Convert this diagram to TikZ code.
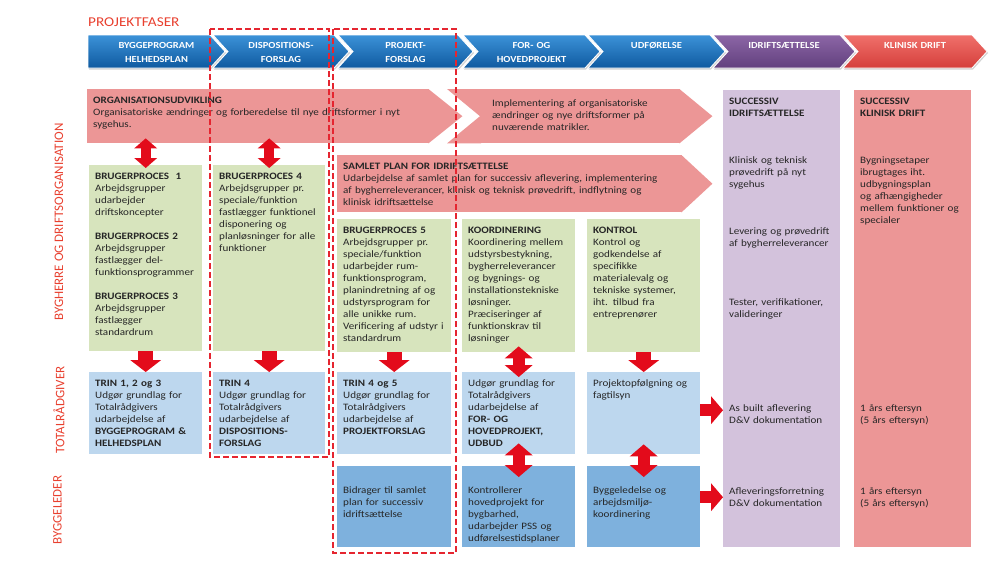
\documentclass[tikz,border=0pt]{standalone}
\usepackage{fontspec}
\setmainfont{Carlito}[FakeStretch=1.13]
\newfontfamily\sidefont{Carlito}
\usepackage{xcolor}
\usepackage{tikz}
\usetikzlibrary{arrows.meta,shadows,positioning}
\hyphenpenalty=10000
\exhyphenpenalty=10000

\definecolor{txtgray}{HTML}{262626}
\definecolor{pinkarrow}{HTML}{EC9696}
\definecolor{boxgreen}{HTML}{D7E4BD}
\definecolor{boxlblue}{HTML}{BDD7EE}
\definecolor{boxdblue}{HTML}{7EB1DD}
\definecolor{colpurple}{HTML}{D3C2DC}
\definecolor{arrowred}{HTML}{E30B1B}
\definecolor{framered}{HTML}{E52530}
\definecolor{labelred}{HTML}{E8402F}
\definecolor{phaseBlueTop}{HTML}{3C92D8}
\definecolor{phaseBlueBot}{HTML}{0F5AA0}
\definecolor{phasePurpleTop}{HTML}{8C66A6}
\definecolor{phasePurpleBot}{HTML}{62407E}
\definecolor{phaseRedTop}{HTML}{F0706B}
\definecolor{phaseRedBot}{HTML}{D53F3B}

\begin{document}
\begin{tikzpicture}[
  x=1pt, y=-1pt,
  every node/.style={text=txtgray},
  body/.style={font=\fontsize{9.8}{12}\selectfont, anchor=north west, align=left,
    inner xsep=6pt, inner ysep=6pt, text height=8pt},
  cell/.style 2 args={body, text width=#1, text depth=#2},
  phase/.style={top color=phase#1Top, bottom color=phase#1Bot, draw=white, line width=0.8pt,
    drop shadow={shadow xshift=1pt, shadow yshift=-1.5pt, opacity=0.35}},
  phasetext/.style={text=white, font=\bfseries\fontsize{9.3}{14}\selectfont, anchor=base,
    text width=120pt, align=center, inner sep=0pt},
  side/.style={text=labelred, font=\sidefont\fontsize{13}{15}\selectfont, rotate=90, inner sep=0pt},
  downarr/.style={draw=arrowred, line width=15pt, -{Triangle[width=31pt,length=12pt,line width=0pt]}},
  dblarr/.style={draw=arrowred, line width=12pt,
    {Triangle[width=28pt,length=12pt,line width=0pt]}-{Triangle[width=28pt,length=12pt,line width=0pt]}},
  topdbl/.style={draw=arrowred, line width=10pt, shorten <=-5pt, shorten >=-3pt,
    {Triangle[width=23pt,length=10pt,line width=0pt]}-{Triangle[width=23pt,length=10pt,line width=0pt]}},
  rightarr/.style={draw=arrowred, line width=12pt, -{Triangle[width=28pt,length=12pt,line width=0pt]}},
  dashframe/.style={draw=framered, line width=2.6pt, dash pattern=on 6pt off 3pt}
]

\useasboundingbox (0,0) rectangle (1003,571);

\node[anchor=base west, inner sep=0pt, text=labelred, font=\fontsize{13.5}{16}\selectfont]
  (title) at (88,26) {PROJEKTFASER};

\foreach \i/\a/\b/\n/\col/\txt in {
  1/88/210/0/Blue/{BYGGEPROGRAM\\HELHEDSPLAN},
  2/213/334/15/Blue/{DISPOSITIONS-\\FORSLAG},
  3/338/458/15/Blue/{PROJEKT-\\FORSLAG},
  4/463/585/15/Blue/{FOR- OG\\HOVEDPROJEKT},
  5/588/710/15/Blue/{UDFØRELSE},
  6/713/840/15/Purple/{IDRIFTSÆTTELSE},
  7/843/972/15/Red/{KLINISK DRIFT}}
{
  \path[phase=\col] (\a,35) -- (\b,35) -- (\b+15,51.5) -- (\b,68) -- (\a,68) -- (\a+\n,51.5) -- cycle;
  \node[phasetext] (p\i) at ({(\a+\b+15)/2},48) {\txt};
}

% organisation arrows
\node[cell={330pt}{34pt}, fill=pinkarrow] (org) at (87,89)
  {\textbf{ORGANISATIONSUDVIKLING}\\Organisatoriske ændringer og forberedelse til nye driftsformer i nyt\\sygehus.};
\fill[pinkarrow] ([xshift=-1pt]org.north east) -- ([xshift=33pt]org.east) -- ([xshift=-1pt]org.south east) -- cycle;

\node[cell={176pt}{31pt}, inner xsep=12pt, text height=11pt, fill=pinkarrow] (impl) at (480,89)
  {Implementering af organisatoriske\\ændringer og nye driftsformer på\\nuværende matrikler.};
\fill[pinkarrow] ([xshift=-33pt]impl.north west) -- ([xshift=1pt]impl.north west) -- ([xshift=1pt]impl.south west)
  -- ([xshift=-33pt]impl.south west) -- (impl.west) -- cycle;
\fill[pinkarrow] ([xshift=-1pt]impl.north east) -- ([xshift=32pt]impl.east) -- ([xshift=-1pt]impl.south east) -- cycle;

\node[cell={333pt}{37pt}, fill=pinkarrow] (samlet) at (337,155)
  {\textbf{SAMLET PLAN FOR IDRIFTSÆTTELSE}\\Udarbejdelse af samlet plan for successiv aflevering, implementering\\af bygherreleverancer, klinisk og teknisk prøvedrift, indflytning og\\klinisk idriftsættelse};
\fill[pinkarrow] ([xshift=-1pt]samlet.north east) -- ([xshift=30pt]samlet.east) -- ([xshift=-1pt]samlet.south east) -- cycle;

% right columns
\node[cell={105pt}{437pt}, fill=colpurple] (pur) at (723,90)
  {\textbf{SUCCESSIV}\\\textbf{IDRIFTSÆTTELSE}\\[35pt]Klinisk og teknisk\\prøvedrift på nyt\\sygehus\\[35pt]Levering og prøvedrift\\af bygherreleverancer\\[47pt]Tester, verifikationer,\\valideringer\\[82pt]As built aflevering\\D\&V dokumentation\\[59pt]Afleveringsforretning\\D\&V dokumentation};
\node[cell={105pt}{437pt}, fill=pinkarrow] (klin) at (854,90)
  {\textbf{SUCCESSIV}\\\textbf{KLINISK DRIFT}\\[35pt]Bygningsetaper\\ibrugtages iht.\\udbygningsplan\\og afhængigheder\\mellem funktioner og\\specialer\\[176pt]1 års eftersyn\\(5 års eftersyn)\\[59pt]1 års eftersyn\\(5 års eftersyn)};

% bygherre
\node[cell={101pt}{166pt}, fill=boxgreen] (g1) at (89,165)
  {\textbf{BRUGERPROCES\ \ 1}\\Arbejdsgrupper\\udarbejder\\driftskoncepter\\[12pt]\textbf{BRUGERPROCES 2}\\Arbejdsgrupper\\fastlægger del-\\funktionsprogrammer\\[12pt]\textbf{BRUGERPROCES 3}\\Arbejdsgrupper\\fastlægger\\standardrum};
\node[cell={100pt}{166pt}, fill=boxgreen] (g2) at (213,165)
  {\textbf{BRUGERPROCES 4}\\Arbejdsgrupper pr.\\speciale/funktion\\fastlægger funktionel\\disponering og\\planløsninger for alle\\funktioner};
\node[cell={102pt}{113pt}, fill=boxgreen] (g3) at (337,219)
  {\textbf{BRUGERPROCES 5}\\Arbejdsgrupper pr.\\speciale/funktion\\udarbejder rum-\\funktionsprogram,\\planindretning af og\\udstyrsprogram for\\alle unikke rum.\\Verificering af udstyr i\\standardrum};
\node[cell={101pt}{113pt}, fill=boxgreen] (g4) at (462,219)
  {\textbf{KOORDINERING}\\Koordinering mellem\\udstyrsbestykning,\\bygherreleverancer\\og bygnings- og\\installationstekniske\\løsninger.\\Præciseringer af\\funktionskrav til\\løsninger};
\node[cell={101pt}{113pt}, fill=boxgreen] (g5) at (587,219)
  {\textbf{KONTROL}\\Kontrol og\\godkendelse af\\specifikke\\materialevalg og\\tekniske systemer,\\iht. tilbud fra\\entreprenører};

% totalraadgiver
\node[cell={101pt}{62pt}, fill=boxlblue] (b1) at (89,372)
  {\textbf{TRIN 1, 2 og 3}\\Udgør grundlag for\\Totalrådgivers\\udarbejdelse af\\\textbf{BYGGEPROGRAM \&}\\\textbf{HELHEDSPLAN}};
\node[cell={100pt}{62pt}, fill=boxlblue] (b2) at (213,372)
  {\textbf{TRIN 4}\\Udgør grundlag for\\Totalrådgivers\\udarbejdelse af\\\textbf{DISPOSITIONS-}\\\textbf{FORSLAG}};
\node[cell={102pt}{62pt}, fill=boxlblue] (b3) at (337,372)
  {\textbf{TRIN 4 og 5}\\Udgør grundlag for\\Totalrådgivers\\udarbejdelse af\\\textbf{PROJEKTFORSLAG}};
\node[cell={101pt}{62pt}, fill=boxlblue] (b4) at (462,372)
  {Udgør grundlag for\\Totalrådgivers\\udarbejdelse af\\\textbf{FOR- OG}\\\textbf{HOVEDPROJEKT,}\\\textbf{UDBUD}};
\node[cell={101pt}{62pt}, fill=boxlblue] (b5) at (587,372)
  {Projektopfølgning og\\fagtilsyn};

% byggeleder
\node[cell={102pt}{48pt}, text height=21pt, fill=boxdblue] (d3) at (337,466)
  {Bidrager til samlet\\plan for successiv\\idriftsættelse};
\node[cell={101pt}{48pt}, text height=21pt, fill=boxdblue] (d4) at (462,466)
  {Kontrollerer\\hovedprojekt for\\bygbarhed,\\udarbejder PSS og\\udførelsestidsplaner};
\node[cell={101pt}{48pt}, text height=21pt, fill=boxdblue] (d5) at (587,466)
  {Byggeledelse og\\arbejdsmiljø-\\koordinering};

\draw[topdbl] (org.south -| g1.north) -- (g1.north);
\draw[topdbl] (org.south -| g2.north) -- (g2.north);
\draw[downarr] (g1) -- (b1);
\draw[downarr] (g2) -- (b2);
\draw[downarr] (g3) -- (b3);
\draw[dblarr, shorten <=-6pt, shorten >=-5pt] (g4) -- (b4);
\draw[downarr] (g5) -- (b5);
\draw[dblarr, shorten <=-11pt, shorten >=-11pt] (b4) -- (d4);
\draw[dblarr, shorten <=-10pt, shorten >=-11pt] (b5) -- (d5);
\coordinate (asbuilt) at ([yshift=3pt]b5.east);
\coordinate (aflev) at ([yshift=9.5pt]d5.east);
\draw[rightarr] (asbuilt) -- (asbuilt -| pur.west);
\draw[rightarr] (aflev) -- (aflev -| pur.west);

\draw[dashframe] (210,29) rectangle (329,457);
\draw[dashframe] (333,29) rectangle (456,553);

\node[side] (lbygherre) at (59,222) {BYGHERRE OG DRIFTSORGANISATION};
\node[side] (ltotal) at (59,410) {TOTALRÅDGIVER};
\node[side] (lbyggeleder) at (57.5,510) {BYGGELEDER};

\end{tikzpicture}
\end{document}
